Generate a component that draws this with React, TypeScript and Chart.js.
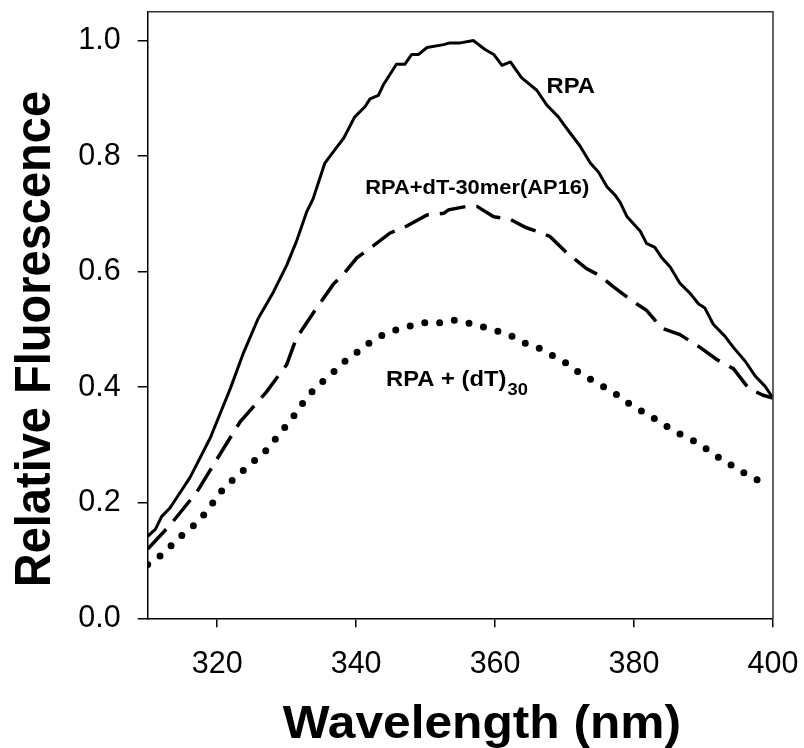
import React, { useEffect, useRef } from "react";
import { Chart, registerables } from "chart.js";

Chart.register(...registerables);

const FONT = '"Liberation Sans", Arial, Helvetica, sans-serif';

// Axis ticks
const xTicks = [320, 340, 360, 380, 400];
const yTicks = [0, 0.2, 0.4, 0.6, 0.8, 1.0];

// RPA (solid)
const rpaWl = [310, 311.1, 312, 313.2, 316.1, 319, 321.9, 323.8, 325.9, 328.1, 330, 331.4, 332.9, 333.8, 335.5, 337, 338.2, 339.8, 341.3, 342, 343.2, 343.9, 345.8, 347, 348, 349, 350.2, 352.6, 353.5, 355, 356.9, 358.5, 359.8, 361, 362.2, 363.8, 366, 367.4, 369.1, 370.8, 372.2, 373.7, 374.9, 376.1, 377.3, 378, 379, 380.9, 381.8, 383, 384, 385.2, 386.6, 388.1, 389.3, 390.2, 391.4, 393.1, 394.3, 396, 397.4, 398.9, 400];
const rpaVal = [0.142, 0.154, 0.176, 0.191, 0.244, 0.312, 0.398, 0.46, 0.519, 0.565, 0.611, 0.652, 0.704, 0.726, 0.788, 0.812, 0.831, 0.868, 0.886, 0.899, 0.905, 0.923, 0.959, 0.959, 0.976, 0.976, 0.988, 0.993, 0.996, 0.996, 1.0, 0.985, 0.976, 0.957, 0.963, 0.936, 0.914, 0.889, 0.868, 0.84, 0.818, 0.788, 0.772, 0.747, 0.732, 0.72, 0.695, 0.67, 0.649, 0.642, 0.624, 0.608, 0.58, 0.562, 0.544, 0.537, 0.509, 0.488, 0.469, 0.445, 0.42, 0.401, 0.381];

// RPA + dT-30mer(AP16) (dashed)
const apWl = [310, 313.2, 317.1, 320.4, 323.3, 327.1, 330, 331.4, 333.8, 336.7, 338.2, 340.1, 342.5, 344.9, 347.3, 350.2, 352.6, 353.3, 355.9, 357.4, 359.8, 362.1, 364.5, 366, 367.9, 370.3, 373.2, 375.1, 377, 379.9, 381.8, 384, 386.6, 389.5, 391.9, 394.3, 396.5, 398.6, 400];
const apVal = [0.12, 0.161, 0.219, 0.284, 0.34, 0.392, 0.439, 0.485, 0.528, 0.578, 0.596, 0.624, 0.645, 0.667, 0.679, 0.698, 0.701, 0.707, 0.713, 0.713, 0.695, 0.691, 0.676, 0.67, 0.661, 0.633, 0.605, 0.593, 0.574, 0.548, 0.533, 0.502, 0.491, 0.469, 0.448, 0.432, 0.398, 0.386, 0.381];

// RPA + (dT)30 (dotted)
const dtWl = [310, 311.8, 313.6, 315.2, 317.1, 318.5, 319.8, 321.2, 323, 324.6, 326.5, 327.9, 329.3, 330.8, 331.9, 333.4, 335, 336.7, 338.4, 340.1, 341.8, 343.4, 345.4, 347, 348.8, 350.6, 352.5, 354.1, 355.9, 357.8, 359.5, 361.2, 363.1, 364.8, 366.7, 368.4, 370.2, 372, 373.7, 375.6, 377.3, 379, 380.9, 382.5, 384.3, 386.1, 388, 389.7, 391.5, 393.2, 395, 396.8, 398.6];
const dtVal = [0.093, 0.108, 0.128, 0.147, 0.165, 0.185, 0.207, 0.229, 0.247, 0.266, 0.283, 0.303, 0.324, 0.346, 0.366, 0.389, 0.408, 0.426, 0.445, 0.46, 0.476, 0.488, 0.498, 0.503, 0.51, 0.513, 0.511, 0.516, 0.512, 0.506, 0.5, 0.494, 0.485, 0.473, 0.466, 0.454, 0.442, 0.426, 0.414, 0.401, 0.389, 0.374, 0.36, 0.349, 0.335, 0.322, 0.311, 0.3, 0.283, 0.272, 0.256, 0.247, 0.233];

// In-plot labels (anchored in data units)
const labelTexts = ["RPA", "RPA+dT-30mer(AP16)", "RPA + (dT)"];
const labelSubs = ["", "", "30"];
const labelWl = [367.4, 341.3, 344.3];
const labelVal = [0.91, 0.735, 0.402];
const labelSizes = [22, 20.3, 22];

const xTitle = "Wavelength (nm)";
const yTitle = "Relative Fluorescence";

const SX = 1.08;

function toPts(xs: number[], ys: number[]) {
  return xs.map((x, i) => ({ x, y: ys[i] }));
}

export default function App() {
  const ref = useRef<HTMLCanvasElement>(null);

  useEffect(() => {
    const decor = {
      id: "decor",
      afterDraw(chart: any) {
        const ctx = chart.ctx as CanvasRenderingContext2D;
        const { left, right, top, bottom } = chart.chartArea;
        ctx.save();
        // top and right frame
        ctx.strokeStyle = "#333";
        ctx.lineWidth = 1.5;
        ctx.beginPath();
        ctx.moveTo(left, top);
        ctx.lineTo(right, top);
        ctx.lineTo(right, bottom);
        ctx.stroke();

        ctx.fillStyle = "#000";
        ctx.textBaseline = "alphabetic";
        ctx.textAlign = "left";

        // in-plot labels
        const xs = chart.scales.x;
        const ys = chart.scales.y;
        labelTexts.forEach((t, i) => {
          const px = xs.getPixelForValue(labelWl[i]);
          const py = ys.getPixelForValue(labelVal[i]);
          ctx.save();
          ctx.translate(px, py);
          ctx.scale(SX, 1);
          ctx.font = `bold ${labelSizes[i]}px ${FONT}`;
          ctx.fillText(t, 0, 0);
          const w = ctx.measureText(t).width;
          if (labelSubs[i]) {
            ctx.font = `bold 17px ${FONT}`;
            ctx.fillText(labelSubs[i], w + 1, 9);
          }
          ctx.restore();
        });

        // x title
        ctx.save();
        ctx.translate(left + 135, chart.height - 10);
        ctx.scale(SX, 1);
        ctx.font = `bold 46px ${FONT}`;
        ctx.fillText(xTitle, 0, 0);
        ctx.restore();

        // y title
        ctx.save();
        ctx.translate(50, bottom - 31);
        ctx.scale(SX, 1);
        ctx.rotate(-Math.PI / 2);
        ctx.font = `bold 47px ${FONT}`;
        ctx.fillText(yTitle, 0, 0);
        ctx.restore();

        ctx.restore();
      },
    };

    const tickFont = { family: FONT, size: 30.5 };

    const chart = new Chart(ref.current as HTMLCanvasElement, {
      type: "line",
      data: {
        datasets: [
          {
            label: "RPA",
            data: toPts(rpaWl, rpaVal),
            borderColor: "#000",
            borderWidth: 3,
            pointRadius: 0,
            tension: 0,
            borderJoinStyle: "round",
          },
          {
            label: "RPA+dT-30mer(AP16)",
            data: toPts(apWl, apVal),
            borderColor: "#000",
            borderWidth: 3.5,
            borderDash: [27, 11],
            pointRadius: 0,
            tension: 0,
          },
          {
            label: "RPA + (dT)30",
            data: toPts(dtWl, dtVal),
            borderColor: "#000",
            borderWidth: 7,
            borderDash: [0, 15],
            borderCapStyle: "round",
            pointRadius: 0,
            tension: 0,
          },
        ],
      },
      options: {
        animation: false,
        responsive: false,
        devicePixelRatio: 1,
        layout: { padding: { top: 11.7, right: 31, bottom: 0, left: 0 } },
        plugins: { legend: { display: false }, tooltip: { enabled: false } },
        scales: {
          x: {
            type: "linear",
            min: 310,
            max: 400,
            afterBuildTicks: (s: any) => {
              s.ticks = xTicks.map((v) => ({ value: v }));
            },
            afterFit: (s: any) => {
              s.height = 129.7;
              s.paddingLeft = 0;
              s.paddingRight = 0;
              s.paddingTop = 0;
              s.paddingBottom = 0;
            },
            grid: { drawOnChartArea: false, color: "#000", lineWidth: 1.5, tickLength: 9 },
            border: { color: "#000", width: 1.5 },
            ticks: {
              color: "#000",
              font: tickFont,
              padding: 19,
              maxRotation: 0,
              autoSkip: false,
              callback: (v: any) => String(v),
            },
          },
          y: {
            type: "linear",
            min: 0,
            max: 1.05,
            afterBuildTicks: (s: any) => {
              s.ticks = yTicks.map((v) => ({ value: v }));
            },
            afterFit: (s: any) => {
              s.width = 147.7;
              s.paddingLeft = 0;
              s.paddingRight = 0;
              s.paddingTop = 0;
              s.paddingBottom = 0;
            },
            grid: { drawOnChartArea: false, color: "#000", lineWidth: 1.5, tickLength: 10 },
            border: { color: "#000", width: 1.5 },
            ticks: {
              color: "#000",
              font: tickFont,
              padding: 17,
              autoSkip: false,
              callback: (v: any) => Number(v).toFixed(1),
            },
          },
        },
      },
      plugins: [decor],
    } as any);

    return () => chart.destroy();
  }, []);

  return (
    <div style={{ position: "absolute", left: 0, top: 0, width: 804, height: 748, background: "#fff" }}>
      <canvas ref={ref} width={804} height={748} style={{ display: "block" }} />
    </div>
  );
}
